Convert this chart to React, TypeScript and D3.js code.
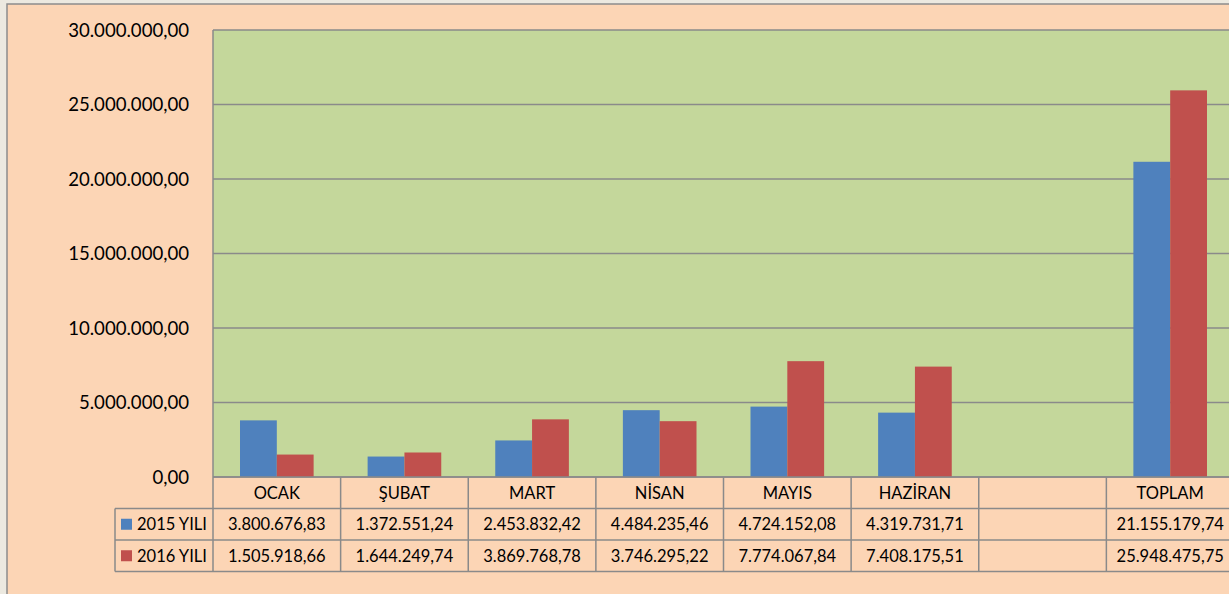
import React from "react";
import * as d3 from "d3";

const categories = ["OCAK", "ŞUBAT", "MART", "NİSAN", "MAYIS", "HAZİRAN", "", "TOPLAM"];
const series = ["2015 YILI", "2016 YILI"];
const values2015: (number | null)[] = [3800676.83, 1372551.24, 2453832.42, 4484235.46, 4724152.08, 4319731.71, null, 21155179.74];
const values2016: (number | null)[] = [1505918.66, 1644249.74, 3869768.78, 3746295.22, 7774067.84, 7408175.51, null, 25948475.75];
const yTicks = [0, 5000000, 10000000, 15000000, 20000000, 25000000, 30000000];

const colors = ["#4F81BD", "#C0504D"];
const W = 1229, H = 594;
const plotLeft = 213, plotRight = 1234, plotTop = 30, plotBottom = 477;
const rowH = 31.5;
const legendLeft = 115;
const gridColor = "#8A8A8A";
const font = "Lato, 'Open Sans', sans-serif";

const locale = d3.formatLocale({ decimal: ",", thousands: ".", grouping: [3], currency: ["", ""] });
const fmt = (v: number) => locale.format(",.2f")(v);

export default function App() {
  const x = d3.scaleBand<string>().domain(categories.map((c, i) => String(i))).range([plotLeft, plotRight]).padding(0);
  const bw = x.bandwidth();
  const x1 = d3.scaleBand<string>().domain(series).range([27, bw - 27]).padding(0);
  const y = d3.scaleLinear().domain([0, 30000000]).range([plotBottom, plotTop]);
  const data = [values2015, values2016];
  const tableBottom = plotBottom + rowH * 3;

  return (
    <svg width={W} height={H} style={{ position: "fixed", left: 0, top: 0 }} fontFamily={font}>
      <rect x={0} y={0} width={W} height={H} fill="#ECE9E0" />
      <rect x={7} y={4} width={W} height={H} fill="#FCD5B5" stroke="#8C8C8C" strokeWidth={1.5} />
      <rect x={plotLeft} y={plotTop} width={plotRight - plotLeft} height={plotBottom - plotTop} fill="#C4D79B" />
      {yTicks.map((t) => (
        <g key={t}>
          <line x1={plotLeft} x2={plotRight} y1={y(t)} y2={y(t)} stroke={gridColor} strokeWidth={1.5} />
          <text x={189} y={y(t)} dy="0.35em" textAnchor="end" fontSize={18.6} fill="#000">{fmt(t)}</text>
        </g>
      ))}
      <line x1={plotLeft} x2={plotLeft} y1={plotTop} y2={tableBottom} stroke={gridColor} strokeWidth={1.5} />
      {data.map((vals, si) =>
        vals.map((v, ci) =>
          v == null ? null : (
            <rect key={si + "-" + ci}
              x={(x(String(ci)) as number) + (x1(series[si]) as number)}
              y={y(v)}
              width={x1.bandwidth()}
              height={plotBottom - y(v)}
              fill={colors[si]} />
          )
        )
      )}
      {categories.map((c, ci) => {
        const cx = (x(String(ci)) as number);
        return (
          <g key={"col" + ci}>
            <line x1={cx + bw} x2={cx + bw} y1={plotBottom} y2={tableBottom} stroke={gridColor} strokeWidth={1.5} />
            <text x={cx + bw / 2} y={plotBottom + rowH / 2} dy="0.36em" textAnchor="middle" fontSize={16.5} fill="#000">{c}</text>
            {data.map((vals, si) => vals[ci] == null ? null : (
              <text key={si} x={cx + bw / 2} y={plotBottom + rowH * (si + 1.5)} dy="0.36em" textAnchor="middle" fontSize={16.5} fill="#000">{fmt(vals[ci] as number)}</text>
            ))}
          </g>
        );
      })}
      {[0, 1, 2, 3].map((r) => (
        <line key={"row" + r}
          x1={r === 0 ? plotLeft : legendLeft} x2={plotRight}
          y1={plotBottom + rowH * r} y2={plotBottom + rowH * r}
          stroke={gridColor} strokeWidth={1.5} />
      ))}
      <line x1={legendLeft} x2={legendLeft} y1={plotBottom + rowH} y2={tableBottom} stroke={gridColor} strokeWidth={1.5} />
      {series.map((s, si) => (
        <g key={s}>
          <rect x={121} y={plotBottom + rowH * (si + 1.5) - 5.5} width={11} height={11} fill={colors[si]} />
          <text x={137} y={plotBottom + rowH * (si + 1.5)} dy="0.36em" fontSize={16.5} fill="#000">{s}</text>
        </g>
      ))}
    </svg>
  );
}
